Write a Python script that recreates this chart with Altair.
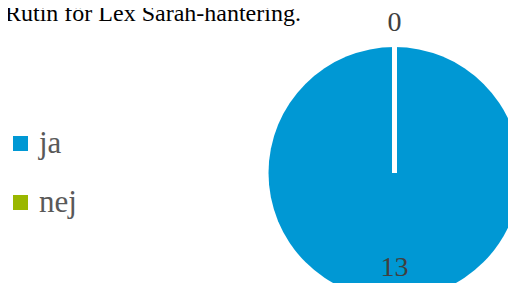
import altair as alt
import pandas as pd

# ---- data ----
categories = ["ja", "nej"]
values = [13, 0]
colors = ["#0098D4", "#9AB700"]
title_text = "Rutin för Lex Sarah-hantering."

df = pd.DataFrame({"svar": categories, "antal": values})

FONT = "Liberation Serif"
CX, CY, R = 386.5, 165, 126

color_enc = alt.Color(
    "svar:N",
    scale=alt.Scale(domain=categories, range=colors),
    legend=alt.Legend(
        title=None,
        orient="none",
        legendX=-3,
        legendY=120,
        symbolType="square",
        symbolSize=225,
        symbolStrokeWidth=0,
        labelFont=FONT,
        labelFontSize=31,
        labelColor="#595959",
        labelOffset=3,
        rowPadding=27,
        padding=0,
    ),
)

pie = alt.Chart(df).mark_arc(radius=R, stroke="white").encode(
    theta=alt.Theta("antal:Q", stack=True),
    color=color_enc,
    order=alt.Order("svar:N"),
    strokeWidth=alt.condition(alt.datum.svar == "nej", alt.value(5), alt.value(0)),
    x=alt.value(CX),
    y=alt.value(CY),
)

lab_base = (
    alt.Chart(df)
    .transform_window(cum="sum(antal)", sort=[alt.SortField("svar")], frame=[None, 0])
    .transform_joinaggregate(total="sum(antal)")
    .transform_calculate(mid="(datum.cum - datum.antal/2) / datum.total * 2 * PI")
)

lab_ja = lab_base.transform_filter(alt.datum.svar == "ja").mark_text(
    font=FONT, fontSize=28, color="#404040", baseline="middle"
).encode(
    theta=alt.Theta("mid:Q", scale=None),
    radius=alt.value(95),
    text="antal:Q",
    x=alt.value(CX),
    y=alt.value(CY),
)

lab_nej = lab_base.transform_filter(alt.datum.svar == "nej").mark_text(
    font=FONT, fontSize=28, color="#404040", baseline="middle"
).encode(
    theta=alt.Theta("mid:Q", scale=None),
    radius=alt.value(150),
    text="antal:Q",
    x=alt.value(CX),
    y=alt.value(CY),
)

chart = (
    alt.layer(pie, lab_ja, lab_nej)
    .properties(
        width=500,
        height=275,
        autosize=alt.AutoSizeParams(type="none"),
        padding={"left": 0, "top": 0, "right": 0, "bottom": 0},
        title=alt.TitleParams(
            title_text,
            anchor="start",
            font=FONT,
            fontSize=24,
            fontWeight="normal",
            color="#000000",
            baseline="alphabetic",
            offset=0,
            dy=37,
        ),
    )
    .configure_view(stroke=None)
)

chart.save("out.html", embed_options={"renderer": "svg", "actions": False})
